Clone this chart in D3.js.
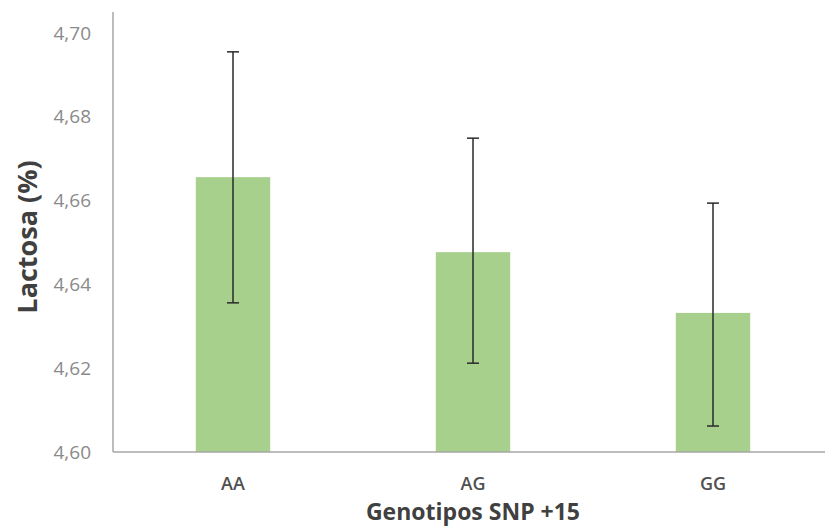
<!DOCTYPE html>
<html>
<head>
<meta charset="utf-8">
<script src="https://cdn.jsdelivr.net/npm/d3@7"></script>
<style>
  body { margin: 0; background: #fff; }
  svg { display: block; }
</style>
</head>
<body>
<svg id="chart"></svg>
<script>
// data
const genotypes = ['AA', 'AG', 'GG'];
const lactose = [4.6656, 4.6477, 4.6332];
const errUpper = [4.6955, 4.6749, 4.6594];
const errLower = [4.6356, 4.6212, 4.6062];
const yTicks = [4.60, 4.62, 4.64, 4.66, 4.68, 4.70];

const width = 825, height = 527;
const margin = {top: 33, right: -8, bottom: 75, left: 113};

const svg = d3.select('#chart')
  .attr('width', width)
  .attr('height', height);

// scales
const x = d3.scaleBand()
  .domain(genotypes)
  .range([margin.left, width - margin.right])
  .paddingInner(0.69)
  .paddingOuter(0.345);

const y = d3.scaleLinear()
  .domain([4.60, 4.70])
  .range([height - margin.bottom, margin.top]);

// y axis line (extends a bit above top tick)
svg.append('line')
  .attr('x1', margin.left).attr('x2', margin.left)
  .attr('y1', 12).attr('y2', y(4.60))
  .attr('stroke', '#a6a6a6')
  .attr('stroke-width', 1.5);

// y tick labels
const yAxis = svg.append('g')
  .attr('transform', 'translate(' + (margin.left - 19) + ',0)')
  .call(d3.axisLeft(y).tickValues(yTicks).tickSize(0).tickFormat(d => d3.format('.2f')(d).replace('.', ',')));
yAxis.select('.domain').remove();
yAxis.selectAll('text')
  .attr('fill', '#8a8a8a')
  .style('font-family', '"Open Sans", sans-serif')
  .style('font-size', '19px');

// bars
svg.selectAll('.bar')
  .data(genotypes)
  .enter().append('rect')
  .attr('class', 'bar')
  .attr('x', d => x(d))
  .attr('width', x.bandwidth())
  .attr('y', (d, i) => y(lactose[i]))
  .attr('height', (d, i) => y(4.60) - y(lactose[i]))
  .attr('fill', '#a8d08d');

// x baseline
svg.append('line')
  .attr('x1', margin.left).attr('x2', width)
  .attr('y1', y(4.60)).attr('y2', y(4.60))
  .attr('stroke', '#a6a6a6')
  .attr('stroke-width', 1.5);

// x tick labels
const xAxis = svg.append('g')
  .attr('transform', 'translate(0,' + (y(4.60) + 22) + ')')
  .call(d3.axisBottom(x).tickSize(0));
xAxis.select('.domain').remove();
xAxis.selectAll('text')
  .attr('fill', '#505050')
  .style('font-family', '"Open Sans", sans-serif')
  .style('font-weight', '600')
  .style('font-size', '18px');

// error bars
const err = svg.append('g').attr('stroke', '#2a2a2a').attr('stroke-width', 1.5);
genotypes.forEach((g, i) => {
  const cx = x(g) + x.bandwidth() / 2;
  err.append('line')
    .attr('x1', cx).attr('x2', cx)
    .attr('y1', y(errUpper[i])).attr('y2', y(errLower[i]));
  [errUpper[i], errLower[i]].forEach(v => {
    err.append('line')
      .attr('x1', cx - 6).attr('x2', cx + 6)
      .attr('y1', y(v)).attr('y2', y(v));
  });
});

// axis titles
svg.append('text')
  .attr('x', 473)
  .attr('y', 520)
  .attr('text-anchor', 'middle')
  .attr('fill', '#404040')
  .style('font-family', '"Open Sans", sans-serif')
  .style('font-weight', 'bold')
  .style('font-size', '23px')
  .text('Genotipos SNP +15');

svg.append('text')
  .attr('transform', 'translate(37,' + 237 + ') rotate(-90)')
  .attr('text-anchor', 'middle')
  .attr('fill', '#404040')
  .style('font-family', '"Open Sans", sans-serif')
  .style('font-weight', 'bold')
  .style('font-size', '27px')
  .text('Lactosa (%)');
</script>
</body>
</html>
